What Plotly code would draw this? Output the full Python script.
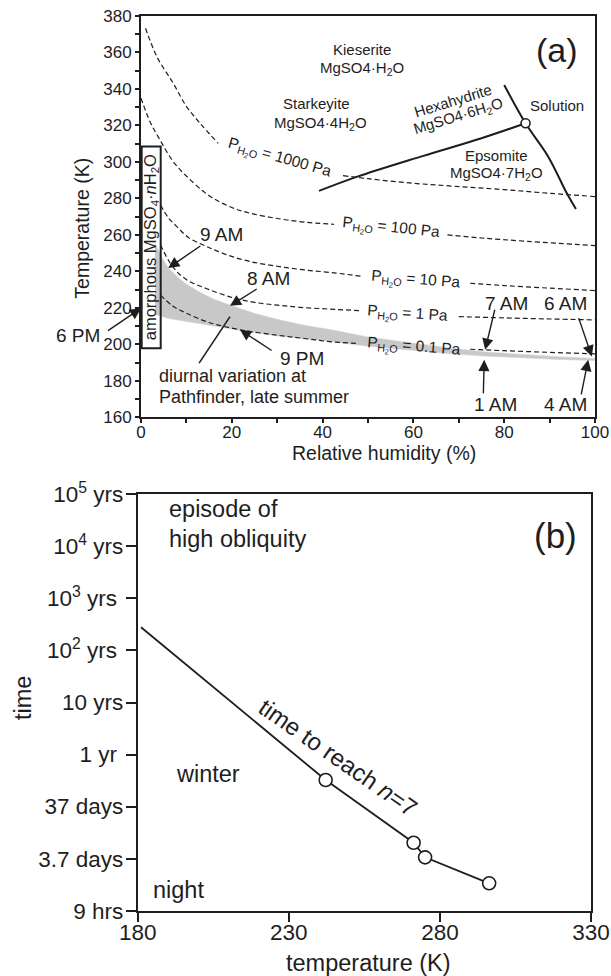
import plotly.graph_objects as go

W, H = 611, 976
FONT = "Liberation Sans, Arial, Helvetica, sans-serif"
INK = "#1e1e1e"
BAND = "rgb(200,200,200)"

# ---------------- panel (a): MgSO4 hydrate stability vs RH ----------------
# water-vapour isobars (RH %, T K); None leaves room for the inline label
p1000_rh = [1.0, 3.5, 7.1, 10, 13, 17, None, 44.5, 50, 60, 70, 80, 90, 100]
p1000_t = [373.3, 357.7, 343.1, 330.5, 321.2, 310.2, None, 292.5, 290.8, 288.3, 286.5, 284.8, 282.8, 281.0]

p100_rh = [0, 2, 4.2, 7, 10.1, 15, 20, 24, 30, 36, 42.5, None, 67.5, 75, 85, 100]
p100_t = [335, 322, 312, 300.5, 292, 281.5, 275, 271.9, 269, 267, 265.8, None, 260, 258.3, 256.5, 254.1]

p10_rh = [4.3, 6, 7.9, 10.5, 14.5, 19, 24, 30, 36, 42.5, 48.8, None, 72.5, 80, 90, 100]
p10_t = [276.4, 269.5, 264.5, 258.5, 253.6, 249, 245.4, 242.8, 240.8, 239.2, 237.2, None, 233.5, 232.2, 230.8, 229.5]

p1_rh = [4.3, 7, 10.1, 14.5, 20.3, 25, 30, 35, 41.6, 48, None, 70, 80, 90, 100]
p1_t = [254.5, 242.5, 235.3, 230.5, 225.5, 223, 221.5, 220.3, 219.3, 218.5, None, 215.2, 214.5, 213.9, 213.4]

p01_rh = [4.3, 7, 10, 15, 21.8, 30, 36, 41.6, 48, None, 72.5, 80, 90, 100]
p01_t = [227.0, 221, 217.1, 212, 208, 205, 203.2, 201.5, 200.4, None, 197.3, 196.5, 195.6, 194.8]

# diurnal envelope at Pathfinder, late summer
band_up_rh = [3.1, 4.5, 6, 8, 10, 13, 16, 19.6, 25, 30, 36, 42, 50, 60, 68, 76, 84, 92, 100]
band_up_t = [255.5, 248, 242, 237, 233, 228.5, 224.8, 221.5, 217, 213.7, 210.5, 208, 204, 200.5, 198, 195.8, 194.3, 193.2, 192.3]
band_lo_rh = [3.1, 6, 10, 13, 18, 23.3, 30, 36, 41.6, 50, 60, 68, 76, 84, 92, 100]
band_lo_t = [216.5, 214.2, 212.6, 211.5, 209.3, 207, 204.6, 203, 201.5, 199, 196.5, 194.8, 193.5, 192.5, 191.7, 191.1]

# phase boundaries
hexa_epsom_rh = [39.2, 47.5, 62, 75, 84.7]
hexa_epsom_t = [284.1, 291.8, 303.2, 313.0, 321.2]
solution_rh = [80.0, 84.7, 89.7, 93.8, 95.8]
solution_t = [342.2, 321.2, 302.9, 282.8, 274.2]
triple_rh = [84.7]
triple_t = [321.2]

# ---------------- panel (b): time to reach n = 7 ----------------
curve_temp = [181.1, 242.2, 271.3, 275.1, 296.3]
curve_years = [279.0, 0.324, 0.0202, 0.0106, 0.00336]
point_temp = [242.2, 271.3, 275.1, 296.3]
point_years = [0.324, 0.0202, 0.0106, 0.00336]
time_ticks = [1e5, 1e4, 1e3, 1e2, 10, 1, 0.1, 0.01, 0.001]
time_labels = ["10<sup>5</sup> yrs", "10<sup>4</sup> yrs", "10<sup>3</sup> yrs ", "10<sup>2</sup> yrs ",
               "10 yrs", "1 yr ", "37 days", "3.7 days", "9 hrs"]
temp_ticks = [180, 230, 280, 330]


def paper(px, py):
    return px / W, 1 - py / H


fig = go.Figure()

# shaded diurnal band
fig.add_trace(go.Scatter(
    x=band_up_rh + band_lo_rh[::-1], y=band_up_t + band_lo_t[::-1],
    fill="toself", fillcolor=BAND, line=dict(width=0.6, color="rgb(215,215,215)"),
    mode="lines", hoverinfo="skip", xaxis="x", yaxis="y"))

dash = dict(color=INK, width=1.2, dash="5px,3px")
for xs, ys in [(p1000_rh, p1000_t), (p100_rh, p100_t), (p10_rh, p10_t), (p1_rh, p1_t), (p01_rh, p01_t)]:
    fig.add_trace(go.Scatter(x=xs, y=ys, mode="lines", line=dash, line_shape="spline",
                             connectgaps=False, xaxis="x", yaxis="y"))

for xs, ys in [(hexa_epsom_rh, hexa_epsom_t), (solution_rh, solution_t)]:
    fig.add_trace(go.Scatter(x=xs, y=ys, mode="lines", line=dict(color=INK, width=2),
                             line_shape="spline", xaxis="x", yaxis="y"))
fig.add_trace(go.Scatter(x=triple_rh, y=triple_t, mode="markers",
                         marker=dict(size=9, color="white", line=dict(color=INK, width=1.6)),
                         xaxis="x", yaxis="y"))

# panel (b) curve and points
fig.add_trace(go.Scatter(x=curve_temp, y=curve_years, mode="lines",
                         line=dict(color=INK, width=1.8), xaxis="x2", yaxis="y2"))
fig.add_trace(go.Scatter(x=point_temp, y=point_years, mode="markers",
                         marker=dict(size=13, color="white", line=dict(color=INK, width=1.6)),
                         xaxis="x2", yaxis="y2"))

ann = []


def label(x, y, text, size, ref=("x", "y"), angle=0, xanchor="center", **kw):
    ann.append(dict(x=x, y=y, xref=ref[0], yref=ref[1], text=text, showarrow=False,
                    textangle=angle, xanchor=xanchor, yanchor="middle",
                    font=dict(family=FONT, size=size, color=INK), **kw))


def arrow(head, tail):
    ann.append(dict(x=head[0], y=head[1], ax=tail[0], ay=tail[1], xref="x", yref="y",
                    axref="x", ayref="y", text="", showarrow=True, arrowhead=2,
                    arrowsize=1.6, arrowwidth=1.4, arrowcolor=INK, standoff=0))


# mineral fields
label(48.6, 361.4, "Kieserite", 15)
label(48.6, 351.3, "MgSO4·H<sub>2</sub>O", 15)
label(38.7, 332.2, "Starkeyite", 15)
label(39.6, 321.2, "MgSO4·4H<sub>2</sub>O", 15)
label(68.8, 333.5, "Hexahydrite", 15, angle=-17)
label(69.9, 325.0, "MgSO4·6H<sub>2</sub>O", 15, angle=-17)
label(91.6, 330.7, "Solution", 15)
label(78.3, 303.3, "Epsomite", 15)
label(78.3, 293.4, "MgSO4·7H<sub>2</sub>O", 15)
label(91.6, 361.4, "(a)", 34)

# isobar labels
PH2O = "P<sub>H<sub>2</sub>O</sub>"
label(30.4, 301.4, PH2O + " = 1000 Pa", 15.5, angle=16)
label(55.0, 263.0, PH2O + " = 100 Pa", 15.5, angle=6)
label(60.4, 234.8, PH2O + " = 10 Pa", 15.5, angle=4.5)
label(58.6, 216.0, PH2O + " = 1 Pa", 15.5, angle=4)
label(60.1, 198.1, PH2O + " = 0.1 Pa", 15.5, angle=4.5)

# amorphous phase box
label(2.2, 253.2, "amorphous MgSO<sub>4</sub>·<i>n</i>H<sub>2</sub>O", 16.5, angle=-90)

# local-time markers on the diurnal cycle
label(17.8, 260.0, "9 AM", 19)
arrow((6.0, 241.8), (13.4, 254.5))
label(28.0, 236.3, "8 AM", 19)
arrow((19.6, 221.1), (25.8, 230.8))
label(35.4, 192.4, "9 PM", 19)
arrow((21.8, 208.0), (29.1, 196.1))
label(*paper(78.3, 335), "6 PM", 19, ref=("paper", "paper"))
arrow((0.0, 219.8), (-7.6, 207.0))
label(80.5, 222.6, "7 AM", 19)
arrow((75.8, 197.0), (78.0, 219.8))
label(93.5, 222.6, "6 AM", 19)
arrow((99.3, 193.3), (96.3, 215.2))
label(78.0, 166.8, "1 AM", 19)
arrow((75.6, 191.5), (75.4, 172.3))
label(93.4, 166.8, "4 AM", 19)
arrow((98.5, 191.5), (96.9, 171.8))
label(3.6, 182.4, "diurnal variation at", 18, xanchor="left")
label(3.6, 171.4, "Pathfinder, late summer", 18, xanchor="left")

# panel (b) annotations (y in log10 years)
label(189.6, 4.712, "episode of", 23.5, ref=("x2", "y2"), xanchor="left")
label(189.6, 4.141, "high obliquity", 23.5, ref=("x2", "y2"), xanchor="left")
label(203.3, -0.374, "winter", 23.5, ref=("x2", "y2"))
label(193.6, -2.602, "night", 23.5, ref=("x2", "y2"))
label(318.2, 4.218, "(b)", 35, ref=("x2", "y2"))
label(246.3, -0.06, "time to reach <i>n</i>=7", 24, ref=("x2", "y2"), angle=34.7)

# axis titles
label(*paper(81.7, 228), "Temperature (K)", 19.5, ref=("paper", "paper"), angle=-90)
label(*paper(384.2, 453.3), "Relative humidity (%)", 19.5, ref=("paper", "paper"))
label(*paper(23, 698), "time", 23.5, ref=("paper", "paper"), angle=-90)
label(*paper(368, 963.3), "temperature (K)", 23.5, ref=("paper", "paper"))

shapes = [
    dict(type="rect", xref="x", yref="y", x0=0.15, x1=4.34, y0=197.9, y1=308.4,
         line=dict(color=INK, width=2)),
    dict(type="line", xref="x", yref="y", x0=12.8, y0=189.7, x1=19.6, y1=215.2,
         line=dict(color=INK, width=1.6)),
]

axis_common = dict(showline=True, linewidth=2, linecolor=INK, mirror=True, showgrid=False,
                   zeroline=False, ticks="outside", tickcolor=INK, tickwidth=1.5,
                   automargin=False)

fig.update_layout(
    template="none",
    width=W, height=H, margin=dict(l=0, r=0, t=0, b=0, pad=0, autoexpand=False), autosize=False,
    paper_bgcolor="white", plot_bgcolor="white", showlegend=False,
    font=dict(family=FONT, color=INK),
    annotations=ann, shapes=shapes,
    xaxis=dict(domain=[141 / W, 595 / W], range=[0, 100], tickvals=[0, 20, 40, 60, 80, 100],
               ticklen=4, tickfont=dict(size=17, color=INK), anchor="y", ticklabelstandoff=-6,
               minor=dict(dtick=10, ticks="outside", ticklen=4, tickcolor=INK, tickwidth=1.5),
               **axis_common),
    yaxis=dict(domain=[1 - 417.3 / H, 1 - 16 / H], range=[160, 380], dtick=20,
               ticklen=4, tickfont=dict(size=17, color=INK), anchor="x",
               minor=dict(dtick=10, ticks="outside", ticklen=4, tickcolor=INK, tickwidth=1.5),
               **axis_common),
    xaxis2=dict(domain=[137.7 / W, 591 / W], range=[180, 330], tickvals=temp_ticks,
                ticklen=9, tickfont=dict(size=22.5, color=INK), anchor="y2", ticklabelstandoff=-9,
                **axis_common),
    yaxis2=dict(domain=[1 - 910.7 / H, 1 - 494.3 / H], type="log", range=[-3, 5],
                tickvals=time_ticks, ticktext=time_labels, ticklen=10, ticklabelstandoff=-2,
                tickfont=dict(size=22.5, color=INK), anchor="x2", **axis_common),
)

fig.write_html("out.html")
